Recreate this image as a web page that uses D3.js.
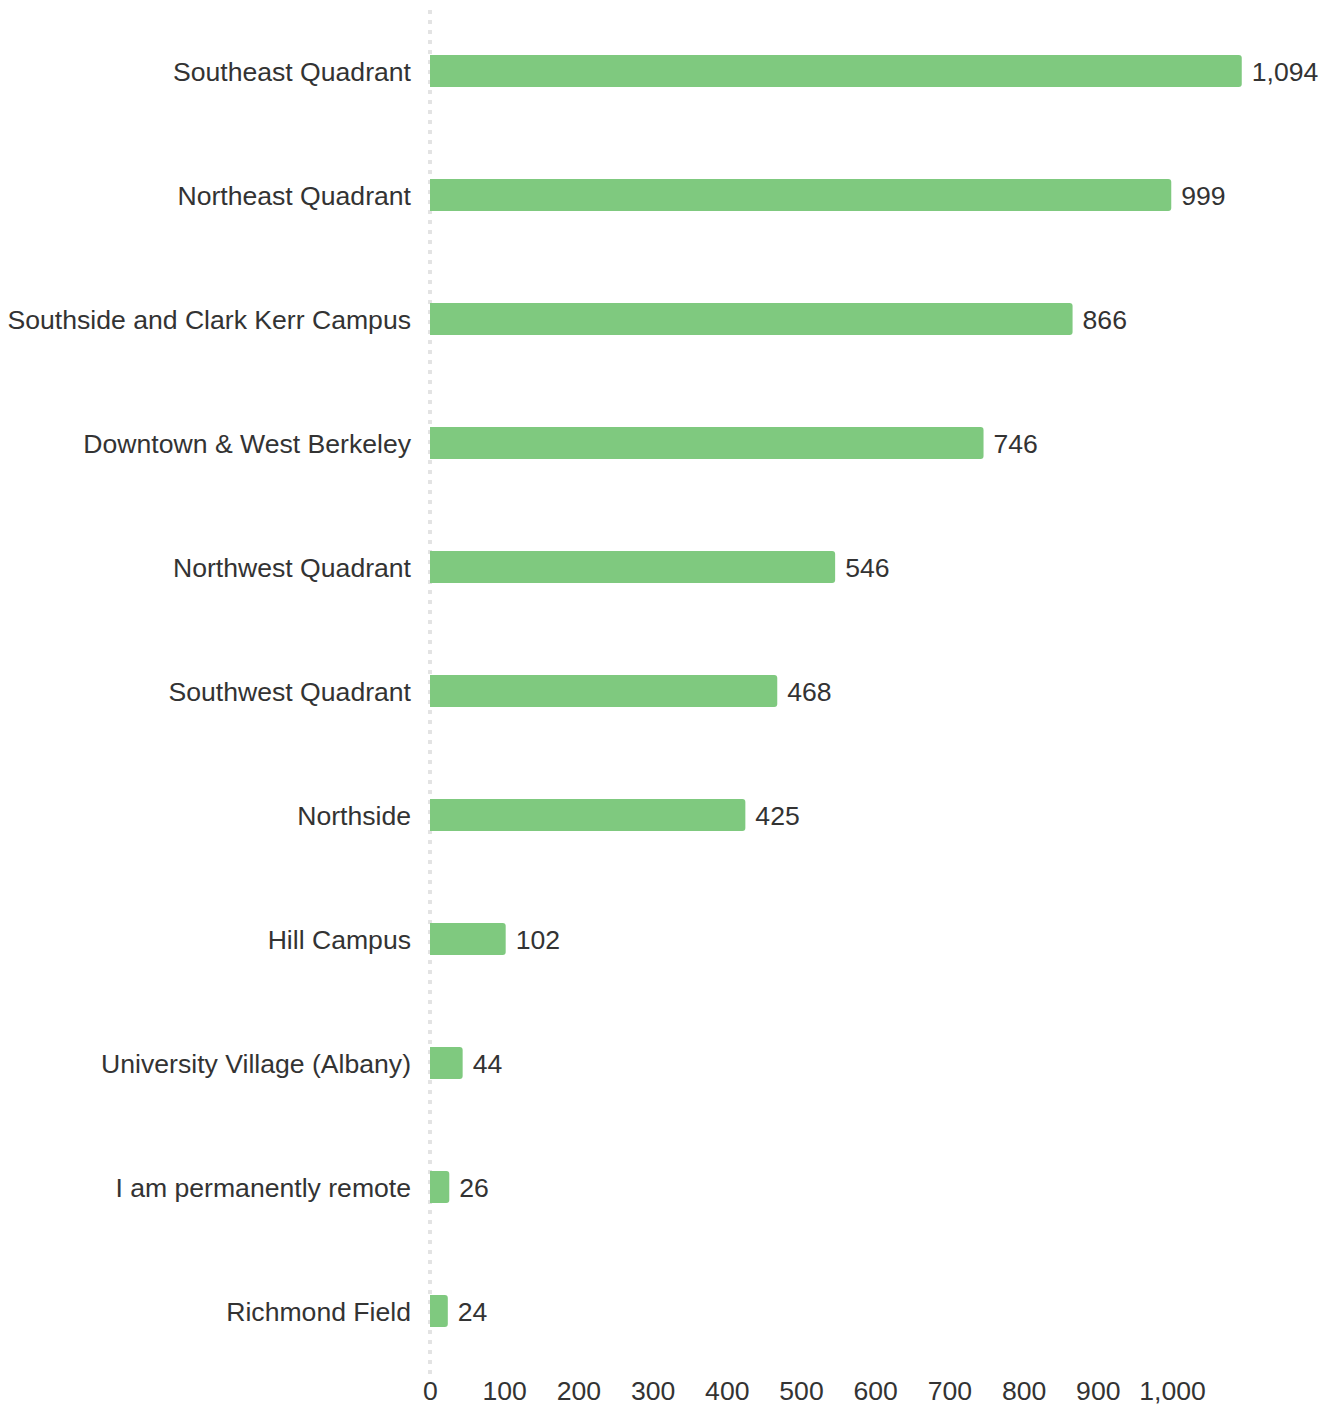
<!DOCTYPE html>
<html><head><meta charset="utf-8">
<script src="https://cdn.jsdelivr.net/npm/d3@7"></script>
<style>body{margin:0;background:#fff;}svg{display:block;}text{font-family:"Liberation Sans",Arial,Helvetica,sans-serif;}</style>
</head><body>
<svg id="c" width="1334" height="1408"></svg>
<script>
const categories = ["Southeast Quadrant","Northeast Quadrant","Southside and Clark Kerr Campus","Downtown & West Berkeley","Northwest Quadrant","Southwest Quadrant","Northside","Hill Campus","University Village (Albany)","I am permanently remote","Richmond Field"];
const values = [1094,999,866,746,546,468,425,102,44,26,24];
const tickValues = [0,100,200,300,400,500,600,700,800,900,1000];

const svg = d3.select("#c");
const x = d3.scaleLinear().domain([0,1000]).range([430,1172]);
const y = d3.scaleBand().domain(categories).range([9,1373]).paddingInner(0.742).paddingOuter(0.371);
const fmt = d3.format(",");
const textColor = "#333333";
const fs = 26.6;

// dotted baseline
svg.append("line").attr("x1",x(0)).attr("x2",x(0)).attr("y1",10).attr("y2",1374)
  .attr("stroke","#e3e3e3").attr("stroke-width",4).attr("stroke-dasharray","4,6");

const r = 3;
function barPath(x0,x1,y0,h){
  const w = x1-x0; const rr = Math.min(r,w/2);
  return `M${x0},${y0}H${x1-rr}Q${x1},${y0} ${x1},${y0+rr}V${y0+h-rr}Q${x1},${y0+h} ${x1-rr},${y0+h}H${x0}Z`;
}
const g = svg.append("g");
g.selectAll("path.bar").data(categories).join("path").attr("class","bar")
  .attr("d",(d,i)=>barPath(x(0),x(values[i]),y(d),y.bandwidth()))
  .attr("fill","#7fc97f");

g.selectAll("text.val").data(categories).join("text").attr("class","val")
  .attr("x",(d,i)=>x(values[i])+10).attr("y",d=>y(d)+y.bandwidth()/2+9.5)
  .attr("font-size",fs).attr("fill",textColor)
  .text((d,i)=>fmt(values[i]));

g.selectAll("text.cat").data(categories).join("text").attr("class","cat")
  .attr("x",411).attr("y",d=>y(d)+y.bandwidth()/2+9.5)
  .attr("text-anchor","end").attr("font-size",fs).attr("fill",textColor)
  .text(d=>d);

const axis = d3.axisBottom(x).tickValues(tickValues).tickFormat(fmt).tickSize(0).tickPadding(0);
const ax = svg.append("g").attr("transform","translate(0,1399.5)").call(axis);
ax.select(".domain").remove();
ax.selectAll("text").attr("y",0).attr("dy",0).attr("font-size",fs).attr("fill",textColor).style("font-family","'Liberation Sans',Arial,sans-serif");
</script>
</body></html>
